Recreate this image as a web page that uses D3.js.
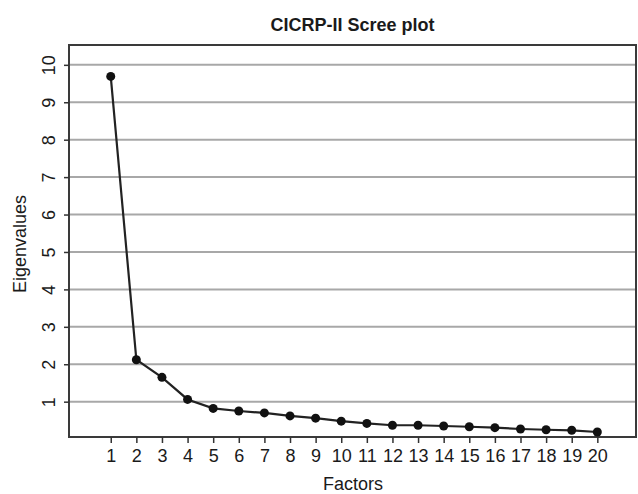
<!DOCTYPE html>
<html>
<head>
<meta charset="utf-8">
<script src="https://cdn.jsdelivr.net/npm/d3@7"></script>
<style>
 body { margin: 0; background: #fff; }
 svg text { font-family: "Liberation Sans", Arial, sans-serif; fill: #1a1a1a; }
</style>
</head>
<body>
<div id="chart"></div>
<script>
/*************
Data
**************/
var factors = d3.range(1, 21);
var eigenvalues = [9.69, 2.12, 1.65, 1.06, 0.82, 0.75, 0.70, 0.62, 0.56, 0.48,
                   0.42, 0.37, 0.37, 0.35, 0.33, 0.305, 0.27, 0.25, 0.235, 0.19];
var yTicks = [1, 2, 3, 4, 5, 6, 7, 8, 9, 10];

var title = "CICRP-II Scree plot";
var xTitle = "Factors";
var yTitle = "Eigenvalues";

/*************
Params
**************/
var width = 638, height = 494;
var plotL = 69, plotR = 636, plotT = 45, plotB = 437;

var x = d3.scaleLinear().domain([-0.63, 21.51]).range([plotL, plotR]);
var y = d3.scaleLinear().domain([0.056, 10.53]).range([plotB, plotT]);

const svg = d3.select("#chart")
 .append("svg")
 .attr("width", width)
 .attr("height", height);

// grid lines
svg.append("g")
 .selectAll("line")
 .data(yTicks)
 .enter().append("line")
 .attr("x1", plotL).attr("x2", plotR)
 .attr("y1", d => y(d)).attr("y2", d => y(d))
 .attr("stroke", "#a8a8a8")
 .attr("stroke-width", 2);

// frame
svg.append("rect")
 .attr("x", plotL).attr("y", plotT)
 .attr("width", plotR - plotL).attr("height", plotB - plotT)
 .attr("fill", "none")
 .attr("stroke", "#3a3a3a")
 .attr("stroke-width", 2);

// x axis
const xAxis = svg.append("g")
 .attr("transform", "translate(0," + plotB + ")")
 .call(d3.axisBottom(x).tickValues(factors).tickSize(6).tickPadding(6).tickSizeOuter(0));
xAxis.select(".domain").remove();
xAxis.selectAll("line").attr("stroke", "#333").attr("stroke-width", 1.5);
xAxis.selectAll("text").attr("font-size", 18).style("font-family", "'Liberation Sans', Arial, sans-serif").attr("fill", "#1a1a1a");

// y axis
const yAxis = svg.append("g")
 .attr("transform", "translate(" + plotL + ",0)")
 .call(d3.axisLeft(y).tickValues(yTicks).tickSize(5).tickSizeOuter(0));
yAxis.select(".domain").remove();
yAxis.selectAll("line").attr("stroke", "#333").attr("stroke-width", 1.5);
yAxis.selectAll("text")
 .attr("x", null).attr("dy", null)
 .attr("text-anchor", "middle")
 .attr("transform", "translate(-14,0) rotate(-90)")
 .attr("font-size", 18)
 .style("font-family", "'Liberation Sans', Arial, sans-serif")
 .attr("fill", "#1a1a1a");

// line + points
const pts = factors.map((f, i) => [f, eigenvalues[i]]);
svg.append("path")
 .datum(pts)
 .attr("fill", "none")
 .attr("stroke", "#222")
 .attr("stroke-width", 2.2)
 .attr("d", d3.line().x(d => x(d[0])).y(d => y(d[1])));

svg.append("g")
 .selectAll("circle")
 .data(pts)
 .enter().append("circle")
 .attr("cx", d => x(d[0]))
 .attr("cy", d => y(d[1]))
 .attr("r", 4.5)
 .attr("fill", "#111");

// titles
svg.append("text")
 .attr("x", 352.5).attr("y", 31)
 .attr("text-anchor", "middle")
 .attr("font-size", 18)
 .attr("font-weight", "bold")
 .text(title);

svg.append("text")
 .attr("x", 353).attr("y", 490)
 .attr("text-anchor", "middle")
 .attr("font-size", 18)
 .text(xTitle);

svg.append("text")
 .attr("transform", "translate(26," + ((plotT + plotB) / 2 + 3) + ") rotate(-90)")
 .attr("text-anchor", "middle")
 .attr("font-size", 18)
 .text(yTitle);
</script>
</body>
</html>
